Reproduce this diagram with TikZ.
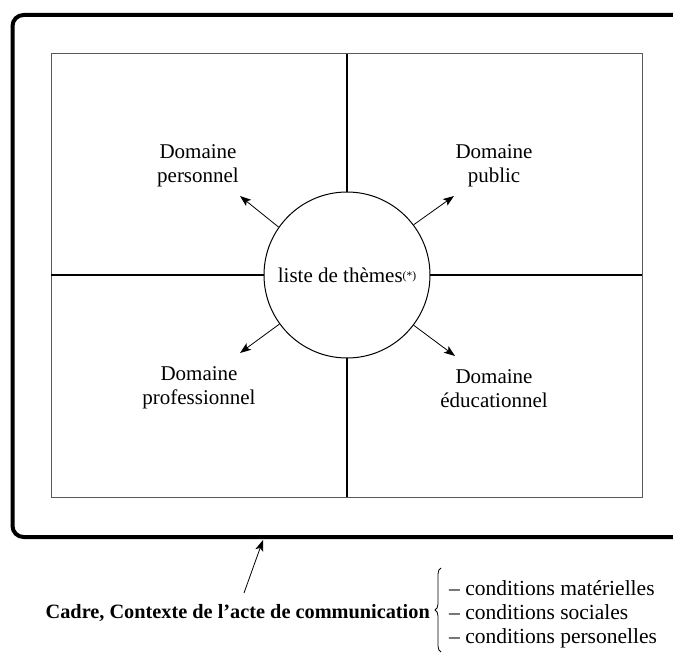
\documentclass[tikz,border=0pt]{standalone}
\usepackage{fontspec}
\setmainfont{Liberation Serif}
\usetikzlibrary{arrows.meta,decorations.pathreplacing}
\begin{document}
\begin{tikzpicture}[x=1pt,y=-1pt,
  lbl/.style={font=\fontsize{21}{24}\selectfont, align=center, inner sep=0pt},
  arr/.style={-{Stealth[length=11pt,width=8pt,inset=2.5pt]}, line width=0.8pt},
  frame/.style={line width=4pt, rounded corners=11pt},
  grid/.style={draw=black!65, line width=1pt},
  cross/.style={line width=1.2pt}]
\useasboundingbox (0,0) rectangle (673,655);
\clip (0,0) rectangle (673,655);
% outer frame (cut at the right edge)
\draw[frame] (12.5,15) rectangle (720,537);
% inner rectangle
\draw[grid] (51,54) rectangle (642,497);
\draw[cross] (347,54) -- (347,497);
\draw[cross] (51,275) -- (642,275);
% circle
\node[circle, draw, fill=white, minimum size=166pt, inner sep=0pt, line width=1pt,
      font=\fontsize{21}{24}\selectfont] (c) at (347,275)
  {liste de thèmes\raisebox{3pt}{\fontsize{11.5}{12}\selectfont(*)}};
% labels
\node[lbl] (dpers) at (198,166) {Domaine\\personnel};
\node[lbl] (dpub) at (494,166) {Domaine\\public};
\node[lbl] (dprof) at (199,388) {Domaine\\professionnel};
\node[lbl] (deduc) at (494,389) {Domaine\\éducationnel};
% arrow ends
\coordinate (tpers) at (240,196);
\coordinate (tpub) at (454,196);
\coordinate (tprof) at (240,353);
\coordinate (teduc) at (455,356);
\draw[arr] (c.145) -- (tpers);
\draw[arr] (c.37) -- (tpub);
\draw[arr] (c.216) -- (tprof);
\draw[arr] (c.323) -- (teduc);
% bottom annotation
\node[inner sep=0pt, anchor=east, font=\fontsize{20.3}{24}\selectfont\bfseries] (cadre) at (430,613)
  {Cadre, Contexte de l’acte de communication};
\node[inner sep=0pt, anchor=west, font=\fontsize{21.5}{24}\selectfont, align=left] (conds) at (449,614)
  {– conditions matérielles\\– conditions sociales\\– conditions personelles};
\coordinate (ctail) at (244,593);
\coordinate (ctip) at (263,540);
\draw[arr] (ctail) -- (ctip);
\draw[decorate, decoration={brace, amplitude=6pt}, line width=0.8pt]
  (441,652) -- (441,568);
\end{tikzpicture}
\end{document}
